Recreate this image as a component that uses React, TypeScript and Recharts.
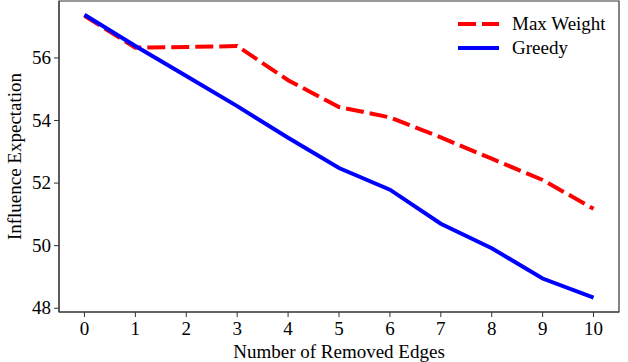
import React from "react";
import {
  LineChart,
  Line,
  XAxis,
  YAxis,
  ReferenceArea,
} from "recharts";

// values
const removedEdges = [0, 1, 2, 3, 4, 5, 6, 7, 8, 9, 10];
const maxWeight = [57.35, 56.33, 56.35, 56.38, 55.29, 54.43, 54.1, 53.46, 52.78, 52.1, 51.18];
const greedy = [57.38, 56.38, 55.42, 54.46, 53.45, 52.48, 51.79, 50.7, 49.92, 48.95, 48.34];
const xTicks = [0, 1, 2, 3, 4, 5, 6, 7, 8, 9, 10];
const yTicks = [48, 50, 52, 54, 56];

const FONT = "'Liberation Serif', 'Times New Roman', serif";
const X_DOMAIN: [number, number] = [-0.5, 10.5];
const Y_DOMAIN: [number, number] = [47.88, 57.82];
const DASH = "18 6";

const data = removedEdges.map((x, i) => ({
  x,
  maxWeight: maxWeight[i],
  greedy: greedy[i],
}));

// legend drawn as plain html so it doesn't eat into the plot area
function LegendBox() {
  const rows = [
    { label: "Max Weight", color: "#ff0000", dash: DASH },
    { label: "Greedy", color: "#0000ff", dash: undefined },
  ];
  return (
    <div
      style={{
        position: "absolute",
        left: 458,
        top: 12,
        fontFamily: FONT,
        fontSize: 19,
        color: "#000",
        lineHeight: "24px",
      }}
    >
      {rows.map((r) => (
        <div key={r.label} style={{ display: "flex", alignItems: "center", height: 24 }}>
          <svg width={41} height={8} style={{ marginRight: 13 }}>
            <line x1={0} y1={4} x2={41} y2={4} stroke={r.color} strokeWidth={4} strokeDasharray={r.dash} />
          </svg>
          <span style={{ fontFamily: FONT }}>{r.label}</span>
        </div>
      ))}
    </div>
  );
}

// explicit <text> ticks so the serif font is definitely used
const XTick = ({ x, y, payload }: any) => (
  <text x={x} y={y + 16} textAnchor="middle" fill="#000" fontSize={19} style={{ fontFamily: FONT }}>
    {payload.value}
  </text>
);

const YTick = ({ x, y, payload }: any) => (
  <text x={x} y={y + 6} textAnchor="end" fill="#000" fontSize={19} style={{ fontFamily: FONT }}>
    {payload.value}
  </text>
);

const labelStyle = { fontSize: 19, fill: "#000", fontFamily: FONT };

export default function App() {
  return (
    <div
      style={{
        position: "absolute",
        left: 0,
        top: 0,
        width: 628,
        height: 362,
        background: "#fff",
        fontFamily: FONT,
      }}
    >
      <LineChart
        width={628}
        height={362}
        data={data}
        margin={{ top: 1, right: 9, bottom: 0, left: 0 }}
        style={{ fontFamily: FONT }}
      >
        <XAxis
          dataKey="x"
          type="number"
          domain={X_DOMAIN}
          ticks={xTicks}
          allowDataOverflow
          height={50}
          tickSize={5}
          tickMargin={2}
          stroke="#333"
          tick={<XTick />}
          label={{ value: "Number of Removed Edges", position: "insideBottom", offset: 4, ...labelStyle }}
        />
        <YAxis
          type="number"
          domain={Y_DOMAIN}
          ticks={yTicks}
          allowDataOverflow
          width={59}
          tickSize={5}
          tickMargin={3}
          stroke="#333"
          tick={<YTick />}
          label={{
            value: "Influence Expectation",
            angle: -90,
            position: "insideLeft",
            offset: 14,
            ...labelStyle,
            style: { textAnchor: "middle" },
          }}
        />
        <ReferenceArea
          x1={X_DOMAIN[0]}
          x2={X_DOMAIN[1]}
          y1={Y_DOMAIN[0]}
          y2={Y_DOMAIN[1]}
          fill="none"
          stroke="#333"
          strokeWidth={1.2}
          ifOverflow="visible"
        />
        <Line
          dataKey="maxWeight"
          stroke="#ff0000"
          strokeWidth={4}
          strokeDasharray={DASH}
          dot={false}
          type="linear"
          isAnimationActive={false}
        />
        <Line
          dataKey="greedy"
          stroke="#0000ff"
          strokeWidth={4}
          dot={false}
          type="linear"
          isAnimationActive={false}
        />
      </LineChart>
      <LegendBox />
    </div>
  );
}
